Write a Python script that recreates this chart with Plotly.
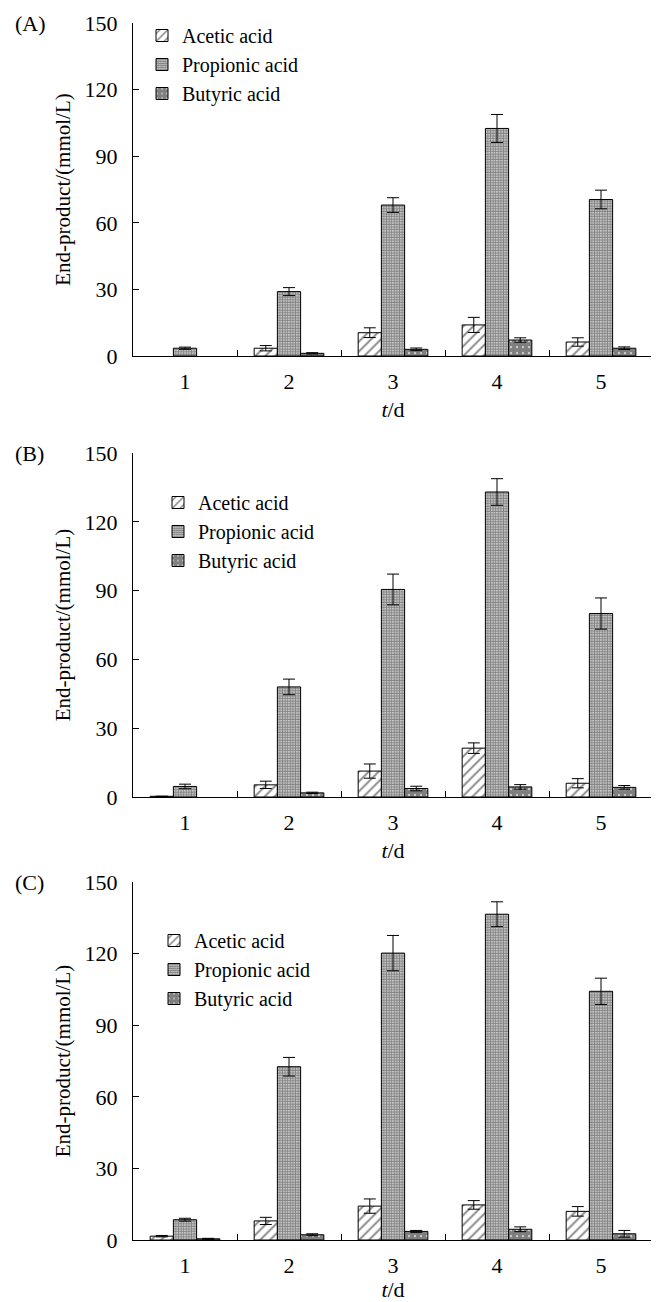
import plotly.graph_objects as go

days = ["1", "2", "3", "4", "5"]
series_names = ["Acetic acid", "Propionic acid", "Butyric acid"]

# Panel A
A_acetic = [None, 3.5, 10.5, 14.0, 6.3]
A_acetic_err = [0, 1.2, 2.2, 3.4, 1.9]
A_prop = [3.5, 29.0, 68.0, 102.5, 70.5]
A_prop_err = [0.5, 1.8, 3.3, 6.3, 4.2]
A_but = [None, 1.2, 3.0, 7.2, 3.5]
A_but_err = [0, 0.3, 0.6, 1.0, 0.6]

# Panel B
B_acetic = [0.3, 5.3, 11.3, 21.3, 6.0]
B_acetic_err = [0, 1.6, 3.1, 2.3, 2.0]
B_prop = [4.6, 48.0, 90.5, 133.0, 80.0]
B_prop_err = [1.0, 3.4, 6.7, 5.8, 6.8]
B_but = [None, 1.8, 3.7, 4.4, 4.2]
B_but_err = [0, 0.3, 1.0, 1.0, 0.8]

# Panel C
C_acetic = [1.6, 8.0, 14.2, 14.7, 12.0]
C_acetic_err = [0.3, 1.5, 3.0, 1.8, 2.0]
C_prop = [8.5, 72.6, 120.2, 136.5, 104.2]
C_prop_err = [0.6, 3.9, 7.4, 5.2, 5.5]
C_but = [0.5, 2.2, 3.6, 4.5, 2.6]
C_but_err = [0.2, 0.4, 0.4, 1.0, 1.4]

panel_labels = ["(A)", "(B)", "(C)"]
y_ticks = [0, 30, 60, 90, 120, 150]
y_title = "End-product/(mmol/L)"
x_title = "<i>t</i>/d"

OFF = 8  # page body margin
W, H = 659 - OFF, 1302 - OFF
FONT = "Liberation Serif"

# page-pixel layout of each panel: (top of 150, zero line)
panels_px = [(23, 356), (453, 797), (882, 1240)]
x_left, x_right = 133, 653

def fx(p):
    return (p - OFF) / W

def fy(p):
    return 1 - (p - OFF) / H

patterns = [
    dict(shape="/", size=7, solidity=0.25, fgcolor="black", bgcolor="white", fillmode="overlay"),
    dict(shape=".", size=2.6, solidity=0.75, fgcolor="black", bgcolor="white", fillmode="overlay"),
    dict(shape=".", size=6, solidity=0.85, fgcolor="black", bgcolor="white", fillmode="overlay"),
]

data = [
    [(A_acetic, A_acetic_err), (A_prop, A_prop_err), (A_but, A_but_err)],
    [(B_acetic, B_acetic_err), (B_prop, B_prop_err), (B_but, B_but_err)],
    [(C_acetic, C_acetic_err), (C_prop, C_prop_err), (C_but, C_but_err)],
]

# legend top-left (page px)
legend_pos = [(142, 16), (158, 483), (154, 921)]

fig = go.Figure()
layout = dict(
    width=W, height=H,
    margin=dict(l=0, r=0, t=0, b=0, autoexpand=False),
    paper_bgcolor="white", plot_bgcolor="white",
    font=dict(family=FONT, size=20, color="black"),
    barmode="group", bargap=0.33, bargroupgap=0.0,
    annotations=[],
)

for i, (top, zero) in enumerate(panels_px):
    xa = "x" if i == 0 else f"x{i+1}"
    ya = "y" if i == 0 else f"y{i+1}"
    lg = "legend" if i == 0 else f"legend{i+1}"
    for j, (vals, errs) in enumerate(data[i]):
        fig.add_trace(go.Bar(
            x=days, y=vals, name=series_names[j],
            xaxis=xa, yaxis=ya, legend=lg,
            marker=dict(color="white", line=dict(color="black", width=1), pattern=patterns[j]),
            error_y=dict(type="data", array=errs, visible=True, color="black", thickness=1, width=6),
            offsetgroup=str(j),
        ))
    xkey = "xaxis" if i == 0 else f"xaxis{i+1}"
    ykey = "yaxis" if i == 0 else f"yaxis{i+1}"
    layout[xkey] = dict(
        domain=[fx(x_left), fx(x_right)], anchor=ya, type="category",
        range=[-0.5, 4.5], showline=True, linecolor="black", linewidth=1,
        ticks="inside", tickson="boundaries", ticklen=6, tickcolor="black",
        showgrid=False, zeroline=False, automargin=False, ticklabelstandoff=6,
        tickfont=dict(family=FONT, size=22, color="black"),
        title=dict(text=x_title, font=dict(family=FONT, size=22, color="black"), standoff=8),
    )
    layout[ykey] = dict(
        domain=[fy(zero), fy(top)], anchor=xa, range=[0, 150], tickvals=y_ticks,
        showline=True, linecolor="black", linewidth=1,
        ticks="inside", ticklen=6, tickcolor="black",
        showgrid=False, zeroline=False, ticklabelstandoff=10, automargin=False,
        tickfont=dict(family=FONT, size=22, color="black"),
        title=dict(text=y_title, font=dict(family=FONT, size=21, color="black"), standoff=8),
    )
    lx, ly = legend_pos[i]
    layout[lg] = dict(
        x=fx(lx), y=fy(ly), xanchor="left", yanchor="top",
        bgcolor="rgba(0,0,0,0)", borderwidth=0,
        font=dict(family=FONT, size=20, color="black"),
        tracegroupgap=0, itemwidth=30,
    )
    layout["annotations"].append(dict(
        text=panel_labels[i], x=fx(13), y=fy(top), xref="paper", yref="paper",
        xanchor="left", yanchor="middle", showarrow=False,
        font=dict(family=FONT, size=22, color="black"),
    ))

fig.update_layout(**layout)
fig.write_html("out.html")
